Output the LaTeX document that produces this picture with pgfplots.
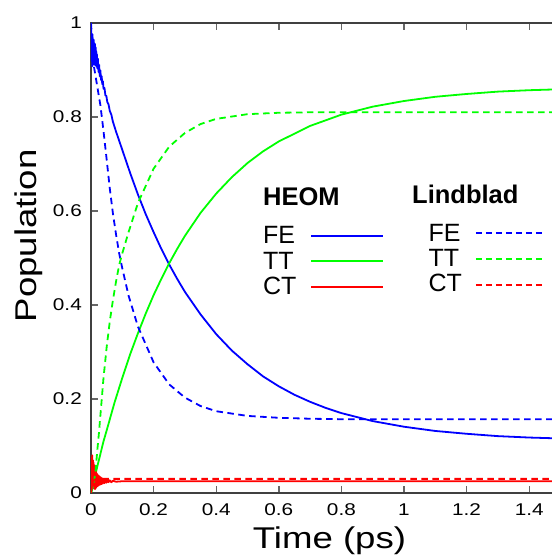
\documentclass[border=0pt]{standalone}
\usepackage{fontspec}
\setmainfont{Liberation Sans}
\newfontfamily\widesans[FakeStretch=1.22]{Liberation Sans}
\newcommand\tickfont{\widesans\fontsize{17bp}{18bp}\selectfont}
\newcommand\labfont{\widesans\fontsize{30bp}{31bp}\selectfont}
\newcommand\legfont{\fontsize{25bp}{26bp}\selectfont}
\newcommand\headfont{\fontsize{25.5bp}{26bp}\selectfont\bfseries}
\usepackage{pgfplots}
\pgfplotsset{compat=1.18}
\definecolor{cblue}{RGB}{0,0,255}
\definecolor{cgreen}{RGB}{0,255,0}
\definecolor{cred}{RGB}{255,0,0}
\definecolor{axgray}{RGB}{64,64,64}

\begin{document}
\begin{tikzpicture}
\begin{axis}[
  name=ax,
  scale only axis,
  width=469.5bp, height=470bp,
  xmin=0, xmax=1.5, ymin=0, ymax=1,
  xtick={0,0.2,0.4,0.6,0.8,1,1.2,1.4},
  ytick={0,0.2,0.4,0.6,0.8,1},
  tick align=inside,
  xtick pos=both, ytick pos=left,
  major tick length=7bp,
  axis line style={draw=axgray, line width=1.6bp},
  tick style={draw=black!60, line width=1.4bp},
  /pgf/number format/assume math mode=true,
  tick label style={font=\tickfont, inner sep=0pt},
  xticklabel style={anchor=base, yshift=-22bp},
  yticklabel style={anchor=east, xshift=-9bp},
  xlabel={Time (ps)}, ylabel={Population},
  every axis x label/.style={at={(rel axis cs:0.508,0)}, anchor=base, yshift=-55bp,
    font=\labfont, inner sep=0pt},
  every axis y label/.style={at={(rel axis cs:0,0.547)}, xshift=-62bp, rotate=90, anchor=center,
    font=\labfont, inner sep=0pt},
  every axis plot/.append style={line width=1.8bp, line join=round},
]
% HEOM
\addplot[cblue] coordinates {
 (0,1.0) (0.001,0.957) (0.002,0.919) (0.003,0.971) (0.004,0.908) (0.005,0.976)
 (0.006,0.913) (0.007,0.965) (0.008,0.912) (0.009,0.964) (0.010,0.912) (0.011,0.957)
 (0.012,0.911) (0.013,0.955) (0.014,0.910) (0.015,0.948) (0.016,0.910) (0.017,0.940)
 (0.018,0.907) (0.019,0.933) (0.020,0.904) (0.022,0.924) (0.024,0.896) (0.026,0.911)
 (0.028,0.887) (0.030,0.899) (0.032,0.879) (0.034,0.887) (0.036,0.870) (0.038,0.876)
 (0.040,0.860) (0.043,0.862) (0.046,0.846) (0.049,0.845) (0.052,0.832) (0.056,0.827)
 (0.060,0.813) (0.065,0.805) (0.070,0.790) (0.080,0.769) (0.100,0.730) (0.125,0.681)
 (0.150,0.635) (0.175,0.593) (0.200,0.555) (0.225,0.519) (0.250,0.486) (0.275,0.456)
 (0.300,0.428) (0.350,0.380) (0.400,0.338) (0.450,0.303) (0.500,0.274) (0.550,0.248)
 (0.600,0.227) (0.650,0.209) (0.700,0.194) (0.750,0.181) (0.800,0.170) (0.900,0.153)
 (1.000,0.141) (1.100,0.132) (1.200,0.126) (1.300,0.121) (1.400,0.118) (1.500,0.116)};
\addplot[cgreen] coordinates {
 (0,0) (0.010,0.028) (0.020,0.056) (0.030,0.083) (0.040,0.110) (0.050,0.133)
 (0.075,0.192) (0.100,0.245) (0.125,0.295) (0.150,0.340) (0.175,0.382) (0.200,0.421)
 (0.225,0.456) (0.250,0.489) (0.275,0.519) (0.300,0.547) (0.350,0.596) (0.400,0.637)
 (0.450,0.672) (0.500,0.702) (0.550,0.727) (0.600,0.748) (0.700,0.781) (0.800,0.805)
 (0.900,0.822) (1.000,0.834) (1.100,0.843) (1.200,0.849) (1.300,0.854) (1.400,0.857)
 (1.500,0.859)};
\addplot[cred] coordinates {
 (0,0) (0.001,0.040) (0.002,0.075) (0.003,0.020) (0.004,0.080) (0.005,0.010)
 (0.006,0.070) (0.007,0.015) (0.008,0.065) (0.009,0.010) (0.010,0.060) (0.011,0.012)
 (0.012,0.055) (0.013,0.008) (0.014,0.050) (0.015,0.010) (0.016,0.045) (0.017,0.012)
 (0.018,0.042) (0.019,0.014) (0.020,0.040) (0.022,0.015) (0.024,0.037) (0.026,0.017)
 (0.028,0.035) (0.030,0.018) (0.032,0.033) (0.034,0.019) (0.036,0.031) (0.038,0.020)
 (0.040,0.030) (0.043,0.021) (0.046,0.029) (0.049,0.022) (0.052,0.028) (0.056,0.023)
 (0.060,0.027) (0.065,0.023) (0.070,0.026) (0.080,0.024) (0.100,0.025) (0.500,0.025)
 (1.000,0.025) (1.500,0.025)};
% Lindblad
\addplot[cblue, dash pattern=on 6.5bp off 4.5bp] coordinates {
 (0,1.0) (0.005,0.950) (0.010,0.905) (0.020,0.865) (0.030,0.825) (0.040,0.770)
 (0.050,0.710) (0.060,0.648) (0.070,0.595) (0.080,0.550) (0.090,0.510) (0.100,0.478)
 (0.120,0.420) (0.150,0.354) (0.200,0.278) (0.250,0.231) (0.300,0.203) (0.350,0.185)
 (0.400,0.174) (0.500,0.164) (0.600,0.160) (0.700,0.158) (0.800,0.157) (1.500,0.157)};
\addplot[cgreen, dash pattern=on 6.5bp off 4.5bp] coordinates {
 (0,0) (0.005,0.010) (0.010,0.025) (0.015,0.050) (0.020,0.090) (0.025,0.125)
 (0.030,0.165) (0.040,0.245) (0.050,0.310) (0.060,0.365) (0.070,0.410) (0.080,0.450)
 (0.090,0.485) (0.100,0.510) (0.120,0.555) (0.150,0.617) (0.200,0.690) (0.250,0.737)
 (0.300,0.766) (0.350,0.785) (0.400,0.796) (0.500,0.806) (0.600,0.809) (0.700,0.810)
 (1.500,0.810)};
\addplot[cred, dash pattern=on 6.5bp off 4.5bp] coordinates {
 (0,0) (0.005,0.020) (0.010,0.028) (0.020,0.030) (1.500,0.030)};
% legend
\node[font=\headfont, anchor=base west, inner sep=0pt] at (axis cs:0.5495,0.611) {HEOM};
\node[font=\headfont, anchor=base west, inner sep=0pt] at (axis cs:1.0256,0.616) {Lindblad};
\node[font=\legfont, anchor=base west, inner sep=0pt] at (axis cs:0.5495,0.530) {FE};
\node[font=\legfont, anchor=base west, inner sep=0pt] at (axis cs:0.5495,0.4745) {TT};
\node[font=\legfont, anchor=base west, inner sep=0pt] at (axis cs:0.5495,0.423) {CT};
\node[font=\legfont, anchor=base west, inner sep=0pt] at (axis cs:1.0777,0.535) {FE};
\node[font=\legfont, anchor=base west, inner sep=0pt] at (axis cs:1.0777,0.4815) {TT};
\node[font=\legfont, anchor=base west, inner sep=0pt] at (axis cs:1.0777,0.428) {CT};
\draw[draw=cblue, line width=1.8bp] (axis cs:0.703,0.5475) -- (axis cs:0.933,0.5475);
\draw[draw=cgreen, line width=1.8bp] (axis cs:0.703,0.494) -- (axis cs:0.933,0.494);
\draw[draw=cred, line width=1.8bp] (axis cs:0.703,0.439) -- (axis cs:0.933,0.439);
\draw[draw=cblue, line width=1.8bp, dash pattern=on 6bp off 4bp] (axis cs:1.230,0.5525) -- (axis cs:1.450,0.5525);
\draw[draw=cgreen, line width=1.8bp, dash pattern=on 6bp off 4bp] (axis cs:1.230,0.4985) -- (axis cs:1.450,0.4985);
\draw[draw=cred, line width=1.8bp, dash pattern=on 6bp off 4bp] (axis cs:1.230,0.4426) -- (axis cs:1.450,0.4426);
\end{axis}
\pgfresetboundingbox
\path[use as bounding box] ([xshift=-91bp,yshift=-66bp]ax.south west) rectangle ([xshift=-8.5bp,yshift=23bp]ax.north east);
\end{tikzpicture}
\end{document}
